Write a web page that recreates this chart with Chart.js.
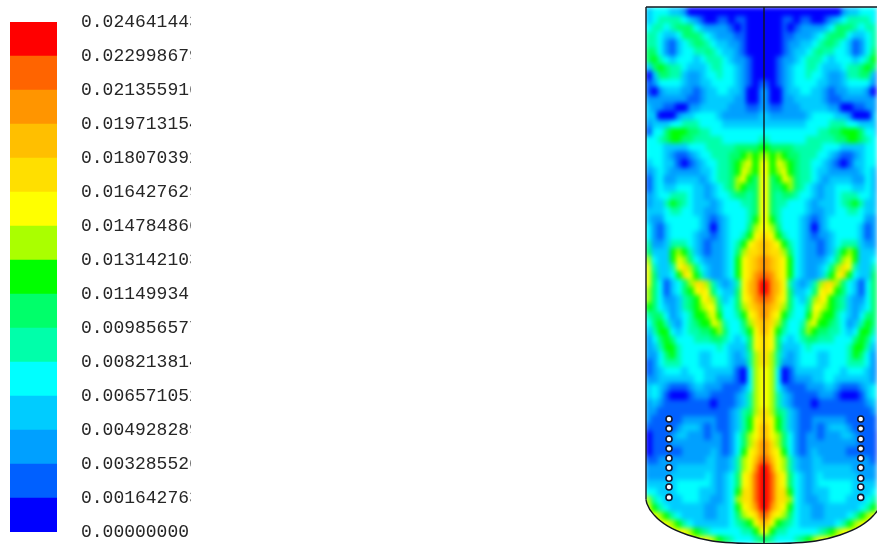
<!DOCTYPE html>
<html>
<head>
<meta charset="utf-8">
<style>
    html, body { margin: 0; padding: 0; background: #fff; overflow: hidden; }
    canvas { position: absolute; top: 0; }
    #legendChart { left: 0; filter: blur(0.4px); }
    #fieldChart { left: 640px; filter: blur(2.6px); clip-path: inset(7px 0 0 6px); }
    #outlineChart { left: 640px; }
</style>
<script src="https://cdn.jsdelivr.net/npm/chart.js@4"></script>
</head>
<body>
<canvas id="legendChart" width="191" height="544"></canvas>
<canvas id="fieldChart" width="237" height="544"></canvas>
<canvas id="outlineChart" width="237" height="544"></canvas>
<script>
// Contour levels, lowest first
const levelLabels = [
    '0.00000000', '0.001642763', '0.003285526', '0.004928289',
    '0.006571052', '0.008213814', '0.009856577', '0.01149934',
    '0.013142103', '0.014784866', '0.016427629', '0.018070392',
    '0.019713154', '0.021355916', '0.022998679', '0.024641443'
];

// One colour per band between two levels
const bandColors = [
    '#0000ff', '#0060ff', '#00a0ff', '#00ccff', '#00ffff',
    '#00ffaa', '#00ff6a', '#00ff00', '#aaff00', '#ffff00',
    '#ffdf00', '#ffbf00', '#ff9500', '#ff6400', '#ff0000'
];

// Band number per cell (hex digit), wall to axis, read row by row from the top.
// The plot is mirrored about the axis so only the left half is listed.
const fieldRows = [
    '34443320000000000000',
    '34555543210011011000',
    '45545666432222101000',
    '55433466654322211000',
    '55421345665433221000',
    '66421344556543321000',
    '67543444345554322100',
    '36765543334554432100',
    '03665532234454432100',
    '12444432233444432101',
    '10233322123344332002',
    '22222221123333322002',
    '32211002233333222112',
    '33000233444432222223',
    '23334455544443333333',
    '14467776655444444444',
    '44567766555554444445',
    '44433334445555566667',
    '44432112344555667878',
    '34433101234455678979',
    '23432222233455679879',
    '13422333323455689769',
    '13433444332345687669',
    '23445554332344566569',
    '23357654333234445569',
    '33345544332234444569',
    '32244444432123444579',
    '42134444432023444689',
    '4213444432212344579a',
    '522355543212234579ab',
    '63337875321223468aab',
    '84337986432223479abc',
    '953359a8643223479abc',
    '963347a9753223479acd',
    '96413468aa8532359bce',
    '864134679a9643369bce',
    '8642235679a853469acd',
    '76432356789964468abc',
    '566423457789744579ac',
    '467532456779854468ab',
    '3577434556678644579b',
    '2467644455566543469a',
    '2357754444445433369a',
    '2246754443344432358a',
    '1245554443344432258a',
    '12344434443333310489',
    '22333333443322210489',
    '34321112332221112489',
    '34310001222111123589',
    '23211111111011123589',
    '2211111111111123568a',
    '2111112222221123579a',
    '1111123332121123579b',
    '0111233222122124689b',
    '011122222222212468ac',
    '011111222223212479ac',
    '112222222233223589bd',
    '222223333333223589ce',
    '22223333334323469ade',
    '33333444444323469ade',
    '4433344443332347aade',
    '8543334443322348aade',
    '97543333332233479ace',
    '998754333322334689ad',
    '9999875433333345679b',
    '99999998765444445579',
    '99999999999876544456'
];

// Vessel outline in cell units, wall to axis along the dished bottom
const domeCols = [0, 0.17, 1.5, 3.7, 7.1, 11.2, 15.1, 20];
const domeRows = [61.6, 62.1, 63.6, 64.9, 66, 66.75, 67, 67.1];

// Tube bundle positions in cell units
const tubeColsLeft = [3.9];
const tubeColsRight = [36.4];
const tubeRows = [51.5, 52.7, 54, 55.2, 56.4, 57.6, 58.9, 60, 61.3];

const fieldColumns = 40;
const cellWidth = 5.9;   // px per column
const cellHeight = 8;    // px per row
const xScale = { type: 'linear', display: false, min: -6 / cellWidth, max: (237 - 6) / cellWidth };
const yScale = { type: 'linear', display: false, reverse: true, min: -7 / cellHeight, max: (544 - 7) / cellHeight };

// Colour legend
function drawLegend() {
    const levels = levelLabels.map(parseFloat);

    new Chart(document.getElementById('legendChart'), {
        type: 'bar',
        data: {
            labels: [''],
            datasets: bandColors.map((color, i) => ({
                data: [[levels[i], levels[i + 1]]],
                backgroundColor: color,
                borderWidth: 0,
                barPercentage: 1,
                categoryPercentage: 1,
                grouped: false
            }))
        },
        options: {
            responsive: false,
            animation: false,
            layout: { autoPadding: false, padding: { left: 10, top: 22, bottom: 12 } },
            plugins: { legend: { display: false }, tooltip: { enabled: false } },
            scales: {
                x: { display: false },
                y: {
                    position: 'right',
                    min: 0,
                    max: levels[levels.length - 1],
                    grid: { display: false, drawTicks: false },
                    border: { display: false },
                    afterBuildTicks: axis => { axis.ticks = levels.map(value => ({ value })); },
                    // keep the tick padding out of the chart area
                    afterFit: axis => {
                        axis.width = 134;
                        axis.paddingTop = 0;
                        axis.paddingBottom = 0;
                    },
                    ticks: {
                        autoSkip: false,
                        padding: 24,
                        color: '#262626',
                        font: { family: 'Liberation Mono', size: 18 },
                        callback: value => levelLabels[levels.indexOf(value)]
                    }
                }
            }
        }
    });
}

// A small canvas used as point style so that cells are not square
function cellImage(color) {
    const img = document.createElement('canvas');
    img.width = 7;
    img.height = 9;
    const c = img.getContext('2d');
    c.fillStyle = color;
    c.fillRect(0, 0, 7, 9);
    return img;
}

// Contour field
function drawField() {
    const datasets = bandColors.map(color => ({
        data: [],
        pointStyle: cellImage(color),
        pointRadius: 4,
        showLine: false
    }));

    fieldRows.forEach((row, r) => {
        [...row].forEach((digit, c) => {
            const band = parseInt(digit, 16);
            datasets[band].data.push({ x: c + 0.5, y: r + 0.5 });
            datasets[band].data.push({ x: fieldColumns - c - 0.5, y: r + 0.5 });
        });
    });

    new Chart(document.getElementById('fieldChart'), {
        type: 'scatter',
        data: { datasets },
        options: {
            responsive: false,
            animation: false,
            layout: { autoPadding: false, padding: 0 },
            plugins: { legend: { display: false }, tooltip: { enabled: false } },
            scales: { x: xScale, y: yScale }
        }
    });
}

// Vessel wall, axis and tubes on top of the blurred field
function drawOutline() {
    const dome = domeCols.map((c, i) => ({ x: c, y: domeRows[i] }));
    const domeRight = domeCols.map((c, i) => ({ x: fieldColumns - c, y: domeRows[i] })).reverse();
    const bottom = dome.concat(domeRight);
    const lineStyle = { showLine: true, pointRadius: 0, borderColor: '#101820', borderWidth: 1.4, tension: 0 };

    const topRow = 0;
    const wallEnd = domeRows[0];
    const tubes = [];
    tubeColsLeft.concat(tubeColsRight).forEach(c => {
        tubeRows.forEach(r => tubes.push({ x: c, y: r }));
    });

    new Chart(document.getElementById('outlineChart'), {
        type: 'scatter',
        data: {
            datasets: [
                { ...lineStyle, data: bottom, cubicInterpolationMode: 'monotone', fill: 'start', backgroundColor: '#ffffff' },
                { ...lineStyle, data: [{ x: 0, y: topRow }, { x: 0, y: wallEnd }] },
                { ...lineStyle, data: [{ x: 0, y: topRow }, { x: fieldColumns, y: topRow }] },
                { ...lineStyle, data: [{ x: fieldColumns / 2, y: topRow }, { x: fieldColumns / 2, y: 67.1 }] },
                {
                    data: tubes,
                    showLine: false,
                    pointRadius: 3,
                    pointBackgroundColor: '#ffffff',
                    pointBorderColor: '#101830',
                    pointBorderWidth: 1.6
                }
            ]
        },
        options: {
            responsive: false,
            animation: false,
            layout: { autoPadding: false, padding: 0 },
            plugins: { legend: { display: false }, tooltip: { enabled: false } },
            scales: { x: xScale, y: yScale }
        }
    });
}

document.addEventListener('DOMContentLoaded', function() {
    drawLegend();
    drawField();
    drawOutline();
});
</script>
</body>
</html>
